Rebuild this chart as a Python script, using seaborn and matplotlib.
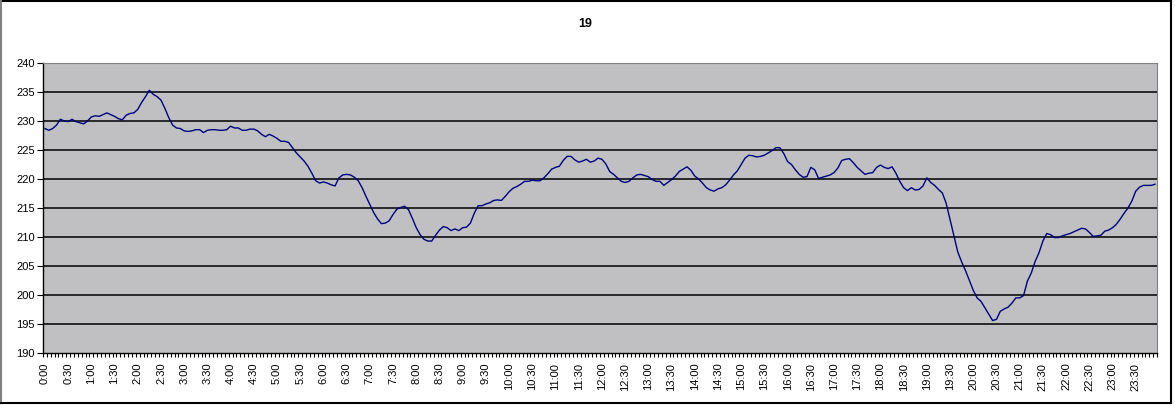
import numpy as np
import pandas as pd
import matplotlib.pyplot as plt
import seaborn as sns
from matplotlib.lines import Line2D
from matplotlib.ticker import FixedLocator

# readings every 5 minutes, one row per hour (0:00 .. 23:55)
hour_00 = [228.7, 228.4, 228.7, 229.3, 230.3, 230.0, 229.9, 230.3, 229.9, 229.7, 229.5, 230.0]
hour_01 = [230.7, 230.9, 230.8, 231.1, 231.4, 231.1, 230.8, 230.4, 230.2, 231.0, 231.3, 231.4]
hour_02 = [232.0, 233.2, 234.2, 235.3, 234.6, 234.2, 233.6, 232.2, 230.6, 229.3, 228.8, 228.7]
hour_03 = [228.3, 228.2, 228.3, 228.5, 228.5, 228.0, 228.4, 228.5, 228.5, 228.4, 228.4, 228.5]
hour_04 = [229.1, 228.8, 228.8, 228.4, 228.4, 228.6, 228.6, 228.3, 227.7, 227.3, 227.7, 227.4]
hour_05 = [227.0, 226.5, 226.5, 226.3, 225.4, 224.5, 223.8, 223.1, 222.2, 221.0, 219.7, 219.3]
hour_06 = [219.5, 219.3, 219.0, 218.8, 220.2, 220.7, 220.8, 220.7, 220.3, 219.7, 218.5, 217.0]
hour_07 = [215.6, 214.2, 213.1, 212.3, 212.4, 212.8, 213.9, 214.8, 215.1, 215.3, 214.7, 213.2]
hour_08 = [211.6, 210.4, 209.6, 209.3, 209.3, 210.3, 211.2, 211.8, 211.6, 211.1, 211.4, 211.1]
hour_09 = [211.6, 211.7, 212.4, 214.1, 215.4, 215.4, 215.7, 215.9, 216.3, 216.4, 216.3, 217.0]
hour_10 = [217.8, 218.4, 218.7, 219.1, 219.6, 219.6, 219.8, 219.7, 219.7, 220.2, 220.9, 221.7]
hour_11 = [222.0, 222.2, 223.2, 223.9, 223.9, 223.3, 222.9, 223.1, 223.4, 222.9, 223.1, 223.6]
hour_12 = [223.4, 222.6, 221.3, 220.8, 220.2, 219.6, 219.4, 219.6, 220.2, 220.7, 220.8, 220.6]
hour_13 = [220.4, 219.9, 219.6, 219.6, 218.9, 219.4, 219.9, 220.5, 221.3, 221.7, 222.1, 221.5]
hour_14 = [220.5, 220.0, 219.3, 218.5, 218.1, 217.9, 218.3, 218.5, 219.0, 219.8, 220.7, 221.4]
hour_15 = [222.5, 223.6, 224.1, 224.0, 223.8, 223.9, 224.1, 224.5, 224.9, 225.4, 225.4, 224.4]
hour_16 = [223.0, 222.5, 221.6, 220.8, 220.3, 220.4, 222.0, 221.6, 220.1, 220.3, 220.5, 220.7]
hour_17 = [221.1, 221.9, 223.2, 223.4, 223.5, 222.8, 222.0, 221.4, 220.8, 221.0, 221.1, 222.0]
hour_18 = [222.4, 222.0, 221.8, 222.1, 221.0, 219.6, 218.5, 218.0, 218.5, 218.1, 218.2, 218.8]
hour_19 = [220.2, 219.4, 218.9, 218.2, 217.6, 215.8, 213.0, 210.2, 207.4, 205.7, 204.2, 202.5]
hour_20 = [200.8, 199.5, 198.9, 197.8, 196.7, 195.6, 195.8, 197.2, 197.6, 197.9, 198.6, 199.5]
hour_21 = [199.5, 199.9, 202.4, 203.8, 205.8, 207.3, 209.3, 210.6, 210.4, 209.9, 209.9, 210.2]
hour_22 = [210.4, 210.6, 210.9, 211.2, 211.5, 211.4, 210.8, 210.1, 210.2, 210.3, 211.0, 211.2]
hour_23 = [211.6, 212.2, 213.1, 214.1, 215.0, 216.2, 217.9, 218.6, 218.9, 218.9, 218.9, 219.1]

hours = [hour_00, hour_01, hour_02, hour_03, hour_04, hour_05, hour_06, hour_07,
         hour_08, hour_09, hour_10, hour_11, hour_12, hour_13, hour_14, hour_15,
         hour_16, hour_17, hour_18, hour_19, hour_20, hour_21, hour_22, hour_23]
values = [v for h in hours for v in h]

# category labels, shown every 30 minutes
slot_labels = [f"{m // 60}:{m % 60:02d}" for m in range(0, 24 * 60, 5)]
y_ticks = [190, 195, 200, 205, 210, 215, 220, 225, 230, 235, 240]

df = pd.DataFrame({'slot': np.arange(len(values)), 'value': values})

W, H = 1175, 405
fig = plt.figure(figsize=(W / 100, H / 100), dpi=100)
plt.rcParams['font.family'] = ['Liberation Sans', 'DejaVu Sans']

ax = fig.add_axes([43 / W, 1 - 353 / H, (1157 - 43) / W, (353 - 63) / H])
ax.set_facecolor('#C0C0C2')

sns.lineplot(data=df, x='slot', y='value', color='#000080', linewidth=1.0, ax=ax)

ax.set_xlim(-0.5, len(values) - 0.5)
ax.set_ylim(190, 240)
ax.set_yticks(y_ticks)
ax.set_yticklabels([str(t) for t in y_ticks], fontsize=8)
for t in y_ticks[1:-1]:
    ax.axhline(t, color='black', linewidth=1.1, zorder=1)

label_pos = list(range(0, len(values), 6))
ax.set_xticks(label_pos)
ax.set_xticklabels([slot_labels[i] for i in label_pos], rotation=90, fontsize=8, va='top')
ax.xaxis.set_minor_locator(FixedLocator(np.arange(-0.5, len(values), 1)))
ax.tick_params(axis='x', which='major', length=0, pad=7)
ax.tick_params(axis='x', which='minor', length=3, width=0.8, direction='out')
ax.tick_params(axis='y', length=4, width=0.8, pad=2)
ax.set_xlabel('')
ax.set_ylabel('')
ax.grid(False)

for side in ['top', 'right']:
    ax.spines[side].set_color('#808080')
for side in ['left', 'bottom']:
    ax.spines[side].set_color('black')
    ax.spines[side].set_linewidth(1.0)

fig.text(585 / W, 1 - 24 / H, '19', ha='center', va='center', fontsize=9, fontweight='bold')

# outer chart border
def px_line(x0, y0, x1, y1, color):
    fig.add_artist(Line2D([x0 / W, x1 / W], [1 - y0 / H, 1 - y1 / H],
                          transform=fig.transFigure, color=color, linewidth=1.5))

px_line(0, 0.5, 1171, 0.5, 'black')
px_line(0.5, 0, 0.5, 403, '#808080')
px_line(1170.5, 0, 1170.5, 403, 'black')
px_line(0, 402.5, 1171, 402.5, 'black')

fig.savefig('out.png', dpi=100)
